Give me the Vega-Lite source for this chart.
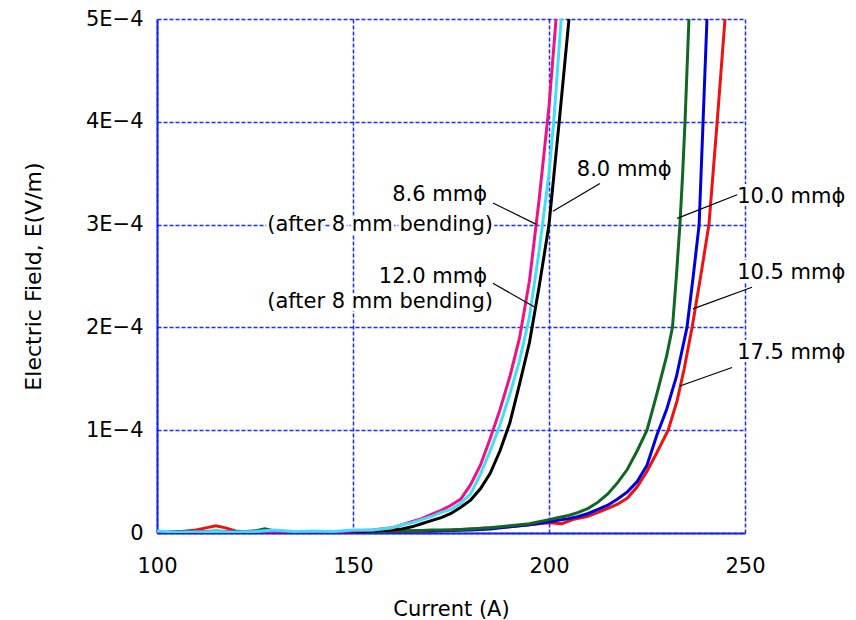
{
  "$schema": "https://vega.github.io/schema/vega-lite/v6.json",
  "width": 588,
  "height": 514,
  "autosize": {"type": "none"},
  "padding": {"left": 157, "top": 19, "right": 111, "bottom": 87},
  "background": "white",
  "config": {
    "view": {"stroke": null},
    "font": "DejaVu Sans",
    "axis": {
      "grid": true,
      "gridColor": "#1A2BFF",
      "gridDash": [4, 2],
      "gridWidth": 1.5,
      "gridOpacity": 1,
      "domainColor": "#1122EE",
      "domainWidth": 2,
      "ticks": false,
      "labelFont": "DejaVu Sans",
      "labelFontSize": 21,
      "labelColor": "black",
      "labelFlush": false,
      "labelOverlap": false,
      "titleFont": "DejaVu Sans",
      "titleFontSize": 21,
      "titleFontWeight": "normal",
      "titleColor": "black"
    }
  },
  "datasets": {
    "curves": [
      {"I":100,"E":0.0e-4,"s":"17.5"},{"I":105,"E":0.01e-4,"s":"17.5"},{"I":110,"E":0.03e-4,"s":"17.5"},{"I":112.5,"E":0.05e-4,"s":"17.5"},{"I":115,"E":0.07e-4,"s":"17.5"},{"I":117.5,"E":0.05e-4,"s":"17.5"},{"I":120,"E":0.02e-4,"s":"17.5"},{"I":122.5,"E":0.01e-4,"s":"17.5"},{"I":125,"E":0.02e-4,"s":"17.5"},{"I":130,"E":0.01e-4,"s":"17.5"},{"I":135,"E":0.01e-4,"s":"17.5"},{"I":140,"E":0.005e-4,"s":"17.5"},{"I":145,"E":0.01e-4,"s":"17.5"},{"I":150,"E":0.01e-4,"s":"17.5"},{"I":155,"E":0.01e-4,"s":"17.5"},{"I":160,"E":0.01e-4,"s":"17.5"},{"I":165,"E":0.02e-4,"s":"17.5"},{"I":170,"E":0.02e-4,"s":"17.5"},{"I":175,"E":0.03e-4,"s":"17.5"},{"I":180,"E":0.04e-4,"s":"17.5"},{"I":185,"E":0.05e-4,"s":"17.5"},{"I":190,"E":0.06e-4,"s":"17.5"},{"I":195,"E":0.08e-4,"s":"17.5"},{"I":200,"E":0.1e-4,"s":"17.5"},{"I":203.3,"E":0.09e-4,"s":"17.5"},{"I":206,"E":0.13e-4,"s":"17.5"},{"I":209.7,"E":0.16e-4,"s":"17.5"},{"I":212.5,"E":0.2e-4,"s":"17.5"},{"I":215,"E":0.24e-4,"s":"17.5"},{"I":217.5,"E":0.28e-4,"s":"17.5"},{"I":220,"E":0.34e-4,"s":"17.5"},{"I":222.5,"E":0.45e-4,"s":"17.5"},{"I":225,"E":0.6e-4,"s":"17.5"},{"I":227.5,"E":0.78e-4,"s":"17.5"},{"I":230.4,"E":1.0e-4,"s":"17.5"},{"I":232.7,"E":1.29e-4,"s":"17.5"},{"I":234.5,"E":1.6e-4,"s":"17.5"},{"I":236.5,"E":2.0e-4,"s":"17.5"},{"I":238.7,"E":2.5e-4,"s":"17.5"},{"I":240.8,"E":3.0e-4,"s":"17.5"},{"I":242.9,"E":4.0e-4,"s":"17.5"},{"I":244.9,"E":5.0e-4,"s":"17.5"},

      {"I":100,"E":0.01e-4,"s":"10.5"},{"I":110,"E":0.01e-4,"s":"10.5"},{"I":120,"E":0.005e-4,"s":"10.5"},{"I":130,"E":0.01e-4,"s":"10.5"},{"I":140,"E":0.005e-4,"s":"10.5"},{"I":150,"E":0.01e-4,"s":"10.5"},{"I":160,"E":0.02e-4,"s":"10.5"},{"I":170,"E":0.02e-4,"s":"10.5"},{"I":180,"E":0.03e-4,"s":"10.5"},{"I":185,"E":0.04e-4,"s":"10.5"},{"I":190,"E":0.06e-4,"s":"10.5"},{"I":195,"E":0.08e-4,"s":"10.5"},{"I":200,"E":0.11e-4,"s":"10.5"},{"I":205,"E":0.14e-4,"s":"10.5"},{"I":207.5,"E":0.16e-4,"s":"10.5"},{"I":210,"E":0.19e-4,"s":"10.5"},{"I":212.5,"E":0.23e-4,"s":"10.5"},{"I":215,"E":0.27e-4,"s":"10.5"},{"I":217.5,"E":0.33e-4,"s":"10.5"},{"I":220,"E":0.4e-4,"s":"10.5"},{"I":222.5,"E":0.5e-4,"s":"10.5"},{"I":225,"E":0.66e-4,"s":"10.5"},{"I":227.5,"E":0.95e-4,"s":"10.5"},{"I":230,"E":1.2e-4,"s":"10.5"},{"I":232.5,"E":1.52e-4,"s":"10.5"},{"I":235.2,"E":2.0e-4,"s":"10.5"},{"I":236.8,"E":2.5e-4,"s":"10.5"},{"I":238.3,"E":3.0e-4,"s":"10.5"},{"I":239.3,"E":4.0e-4,"s":"10.5"},{"I":240.3,"E":5.0e-4,"s":"10.5"},

      {"I":100,"E":0.005e-4,"s":"10.0"},{"I":105,"E":0.01e-4,"s":"10.0"},{"I":110,"E":0.01e-4,"s":"10.0"},{"I":115,"E":0.02e-4,"s":"10.0"},{"I":120,"E":0.01e-4,"s":"10.0"},{"I":125,"E":0.02e-4,"s":"10.0"},{"I":127.5,"E":0.04e-4,"s":"10.0"},{"I":130,"E":0.02e-4,"s":"10.0"},{"I":135,"E":0.01e-4,"s":"10.0"},{"I":140,"E":0.01e-4,"s":"10.0"},{"I":145,"E":0.01e-4,"s":"10.0"},{"I":150,"E":0.01e-4,"s":"10.0"},{"I":155,"E":0.01e-4,"s":"10.0"},{"I":160,"E":0.02e-4,"s":"10.0"},{"I":165,"E":0.02e-4,"s":"10.0"},{"I":170,"E":0.03e-4,"s":"10.0"},{"I":175,"E":0.03e-4,"s":"10.0"},{"I":180,"E":0.04e-4,"s":"10.0"},{"I":185,"E":0.05e-4,"s":"10.0"},{"I":190,"E":0.07e-4,"s":"10.0"},{"I":195,"E":0.09e-4,"s":"10.0"},{"I":200,"E":0.13e-4,"s":"10.0"},{"I":202.5,"E":0.15e-4,"s":"10.0"},{"I":205,"E":0.17e-4,"s":"10.0"},{"I":207.5,"E":0.2e-4,"s":"10.0"},{"I":210,"E":0.24e-4,"s":"10.0"},{"I":212.5,"E":0.3e-4,"s":"10.0"},{"I":215,"E":0.38e-4,"s":"10.0"},{"I":217.5,"E":0.49e-4,"s":"10.0"},{"I":220,"E":0.62e-4,"s":"10.0"},{"I":222.5,"E":0.8e-4,"s":"10.0"},{"I":225,"E":1.0e-4,"s":"10.0"},{"I":227.5,"E":1.35e-4,"s":"10.0"},{"I":230,"E":1.72e-4,"s":"10.0"},{"I":231.5,"E":2.0e-4,"s":"10.0"},{"I":232.5,"E":2.5e-4,"s":"10.0"},{"I":233.4,"E":3.0e-4,"s":"10.0"},{"I":234.1,"E":3.5e-4,"s":"10.0"},{"I":234.7,"E":4.0e-4,"s":"10.0"},{"I":235.7,"E":5.0e-4,"s":"10.0"},

      {"I":100,"E":0.01e-4,"s":"12.0"},{"I":105,"E":0.01e-4,"s":"12.0"},{"I":110,"E":0.005e-4,"s":"12.0"},{"I":115,"E":0.01e-4,"s":"12.0"},{"I":120,"E":0.01e-4,"s":"12.0"},{"I":125,"E":0.01e-4,"s":"12.0"},{"I":130,"E":0.01e-4,"s":"12.0"},{"I":135,"E":0.015e-4,"s":"12.0"},{"I":140,"E":0.01e-4,"s":"12.0"},{"I":145,"E":0.01e-4,"s":"12.0"},{"I":150,"E":0.01e-4,"s":"12.0"},{"I":155,"E":0.02e-4,"s":"12.0"},{"I":160,"E":0.03e-4,"s":"12.0"},{"I":162.5,"E":0.04e-4,"s":"12.0"},{"I":165,"E":0.06e-4,"s":"12.0"},{"I":167.5,"E":0.09e-4,"s":"12.0"},{"I":170,"E":0.12e-4,"s":"12.0"},{"I":172.5,"E":0.15e-4,"s":"12.0"},{"I":175,"E":0.19e-4,"s":"12.0"},{"I":177.5,"E":0.25e-4,"s":"12.0"},{"I":180,"E":0.32e-4,"s":"12.0"},{"I":182.5,"E":0.43e-4,"s":"12.0"},{"I":185,"E":0.58e-4,"s":"12.0"},{"I":187.5,"E":0.8e-4,"s":"12.0"},{"I":190,"E":1.07e-4,"s":"12.0"},{"I":192.5,"E":1.45e-4,"s":"12.0"},{"I":195,"E":1.85e-4,"s":"12.0"},{"I":197.5,"E":2.4e-4,"s":"12.0"},{"I":200,"E":3.0e-4,"s":"12.0"},{"I":201.3,"E":3.5e-4,"s":"12.0"},{"I":202.6,"E":4.0e-4,"s":"12.0"},{"I":205.1,"E":5.0e-4,"s":"12.0"},

      {"I":100,"E":0.01e-4,"s":"8.6"},{"I":105,"E":0.005e-4,"s":"8.6"},{"I":110,"E":0.01e-4,"s":"8.6"},{"I":115,"E":0.01e-4,"s":"8.6"},{"I":120,"E":0.005e-4,"s":"8.6"},{"I":125,"E":0.01e-4,"s":"8.6"},{"I":130,"E":0.01e-4,"s":"8.6"},{"I":135,"E":0.005e-4,"s":"8.6"},{"I":140,"E":0.01e-4,"s":"8.6"},{"I":145,"E":0.01e-4,"s":"8.6"},{"I":150,"E":0.02e-4,"s":"8.6"},{"I":155,"E":0.03e-4,"s":"8.6"},{"I":160,"E":0.05e-4,"s":"8.6"},{"I":162.5,"E":0.08e-4,"s":"8.6"},{"I":165,"E":0.11e-4,"s":"8.6"},{"I":167.5,"E":0.14e-4,"s":"8.6"},{"I":170,"E":0.18e-4,"s":"8.6"},{"I":172.5,"E":0.22e-4,"s":"8.6"},{"I":175,"E":0.27e-4,"s":"8.6"},{"I":177.5,"E":0.33e-4,"s":"8.6"},{"I":180,"E":0.47e-4,"s":"8.6"},{"I":182.5,"E":0.66e-4,"s":"8.6"},{"I":185,"E":0.92e-4,"s":"8.6"},{"I":187.5,"E":1.2e-4,"s":"8.6"},{"I":190,"E":1.52e-4,"s":"8.6"},{"I":192.5,"E":1.9e-4,"s":"8.6"},{"I":195,"E":2.45e-4,"s":"8.6"},{"I":197.5,"E":3.25e-4,"s":"8.6"},{"I":200,"E":4.15e-4,"s":"8.6"},{"I":201.8,"E":5.0e-4,"s":"8.6"},

      {"I":100,"E":0.02e-4,"s":"8.0"},{"I":105,"E":0.01e-4,"s":"8.0"},{"I":110,"E":0.01e-4,"s":"8.0"},{"I":115,"E":0.015e-4,"s":"8.0"},{"I":120,"E":0.01e-4,"s":"8.0"},{"I":125,"E":0.015e-4,"s":"8.0"},{"I":130,"E":0.03e-4,"s":"8.0"},{"I":135,"E":0.015e-4,"s":"8.0"},{"I":140,"E":0.02e-4,"s":"8.0"},{"I":145,"E":0.015e-4,"s":"8.0"},{"I":150,"E":0.03e-4,"s":"8.0"},{"I":155,"E":0.03e-4,"s":"8.0"},{"I":160,"E":0.05e-4,"s":"8.0"},{"I":162.5,"E":0.08e-4,"s":"8.0"},{"I":165,"E":0.1e-4,"s":"8.0"},{"I":167.5,"E":0.13e-4,"s":"8.0"},{"I":170,"E":0.16e-4,"s":"8.0"},{"I":172.5,"E":0.2e-4,"s":"8.0"},{"I":175,"E":0.23e-4,"s":"8.0"},{"I":177.5,"E":0.29e-4,"s":"8.0"},{"I":180,"E":0.38e-4,"s":"8.0"},{"I":182.5,"E":0.57e-4,"s":"8.0"},{"I":185,"E":0.8e-4,"s":"8.0"},{"I":187.5,"E":1.05e-4,"s":"8.0"},{"I":190,"E":1.35e-4,"s":"8.0"},{"I":192.5,"E":1.68e-4,"s":"8.0"},{"I":195,"E":2.1e-4,"s":"8.0"},{"I":197.5,"E":2.75e-4,"s":"8.0"},{"I":200,"E":3.5e-4,"s":"8.0"},{"I":201.2,"E":4.0e-4,"s":"8.0"},{"I":203.1,"E":5.0e-4,"s":"8.0"}
    ],
    "leaders": [
      {"x1":185.7,"y1":3.21e-4,"x2":196.9,"y2":3.0e-4},
      {"x1":213.0,"y1":3.40e-4,"x2":201.0,"y2":3.13e-4},
      {"x1":185.7,"y1":2.43e-4,"x2":196.2,"y2":2.20e-4},
      {"x1":248.0,"y1":3.29e-4,"x2":232.7,"y2":3.06e-4},
      {"x1":251.8,"y1":2.39e-4,"x2":236.7,"y2":2.18e-4},
      {"x1":246.7,"y1":1.61e-4,"x2":233.4,"y2":1.43e-4}
    ],
    "labels": [
      {"x":184.2,"y":3.29e-4,"t":"8.6 mmϕ","side":"right"},
      {"x":185.7,"y":3.0e-4,"t":"(after 8 mm bending)","side":"right"},
      {"x":184.2,"y":2.49e-4,"t":"12.0 mmϕ","side":"right"},
      {"x":185.7,"y":2.25e-4,"t":"(after 8 mm bending)","side":"right"},
      {"x":207.1,"y":3.53e-4,"t":"8.0 mmϕ","side":"left"},
      {"x":248.0,"y":3.27e-4,"t":"10.0 mmϕ","side":"left"},
      {"x":248.0,"y":2.53e-4,"t":"10.5 mmϕ","side":"left"},
      {"x":248.0,"y":1.75e-4,"t":"17.5 mmϕ","side":"left"}
    ]
  },
  "layer": [
    {
      "data": {"name": "curves"},
      "mark": {"type": "line", "strokeWidth": 3, "clip": true},
      "encoding": {
        "x": {"field": "I", "type": "quantitative",
          "scale": {"domain": [100, 250], "nice": false, "zero": false},
          "axis": {"values": [100, 150, 200, 250], "labelPadding": 22, "title": "Current (A)", "titlePadding": 22}},
        "y": {"field": "E", "type": "quantitative",
          "scale": {"domain": [0, 0.0005], "nice": false},
          "axis": {"values": [0, 0.0001, 0.0002, 0.0003, 0.0004, 0.0005],
            "labelExpr": "datum.value == 0 ? '0' : format(round(datum.value * 10000), 'd') + 'E−4'",
            "labelPadding": 14, "title": "Electric Field, E(V/m)", "titleFontSize": 22, "titlePadding": 40}},
        "color": {"field": "s", "type": "nominal", "legend": null,
          "scale": {"domain": ["17.5", "10.5", "10.0", "12.0", "8.6", "8.0"],
            "range": ["#EE1111", "#0000DD", "#116622", "#000000", "#EE1188", "#44DDF8"]}}
      }
    },
    {
      "data": {"name": "leaders"},
      "mark": {"type": "rule", "color": "black", "strokeWidth": 1.2},
      "encoding": {
        "x": {"field": "x1", "type": "quantitative"},
        "y": {"field": "y1", "type": "quantitative"},
        "x2": {"field": "x2"},
        "y2": {"field": "y2"}
      }
    },
    {
      "data": {"name": "labels"},
      "transform": [{"filter": "datum.side == 'right'"}],
      "mark": {"type": "text", "align": "right", "baseline": "middle", "fontSize": 21, "font": "DejaVu Sans", "stroke": "white", "strokeWidth": 6, "strokeJoin": "round", "fill": "white"},
      "encoding": {"x": {"field": "x", "type": "quantitative"}, "y": {"field": "y", "type": "quantitative"}, "text": {"field": "t"}}
    },
    {
      "data": {"name": "labels"},
      "transform": [{"filter": "datum.side == 'left'"}],
      "mark": {"type": "text", "align": "left", "baseline": "middle", "fontSize": 21, "font": "DejaVu Sans", "stroke": "white", "strokeWidth": 6, "strokeJoin": "round", "fill": "white"},
      "encoding": {"x": {"field": "x", "type": "quantitative"}, "y": {"field": "y", "type": "quantitative"}, "text": {"field": "t"}}
    },
    {
      "data": {"name": "labels"},
      "transform": [{"filter": "datum.side == 'right'"}],
      "mark": {"type": "text", "align": "right", "baseline": "middle", "fontSize": 21, "font": "DejaVu Sans", "color": "black"},
      "encoding": {"x": {"field": "x", "type": "quantitative"}, "y": {"field": "y", "type": "quantitative"}, "text": {"field": "t"}}
    },
    {
      "data": {"name": "labels"},
      "transform": [{"filter": "datum.side == 'left'"}],
      "mark": {"type": "text", "align": "left", "baseline": "middle", "fontSize": 21, "font": "DejaVu Sans", "color": "black"},
      "encoding": {"x": {"field": "x", "type": "quantitative"}, "y": {"field": "y", "type": "quantitative"}, "text": {"field": "t"}}
    }
  ]
}
